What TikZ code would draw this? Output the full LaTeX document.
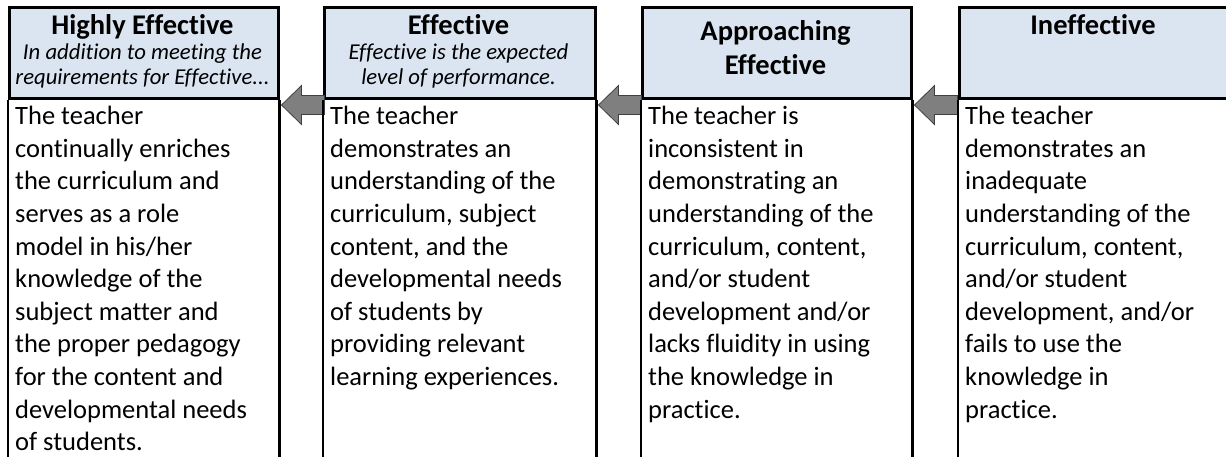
\documentclass[tikz,border=0pt]{standalone}
\usepackage{fontspec}
\setmainfont{Carlito}[Ligatures=NoCommon]
\usetikzlibrary{calc}
\definecolor{hdrblue}{HTML}{DBE5F1}
\definecolor{arrgray}{HTML}{7F7F7F}
\definecolor{arredge}{HTML}{404040}
\newcommand\titlefont{\fontsize{28.5}{35}\selectfont\bfseries}
\newcommand\subfont{\fontsize{22.7}{27}\selectfont\itshape}
\newcommand\bodyfont{\fontsize{26.5}{32.6}\selectfont}
\begin{document}
\begin{tikzpicture}[x=1pt,y=-1pt,
  hdrbox/.style={draw, line width=2.5pt, fill=hdrblue, inner sep=0pt, anchor=north west, minimum height=91pt},
  sideline/.style={line width=2.5pt},
  ttl/.style={font=\titlefont, anchor=base, inner sep=0pt},
  sub/.style={font=\subfont, anchor=base, inner sep=0pt},
  bodytext/.style={font=\bodyfont, align=left, anchor=north west, inner sep=0pt},
  blockarrow/.style={fill=arrgray, draw=arredge, line width=0.8pt, line join=miter}]
\useasboundingbox (0,0) rectangle (1226,456);
% headers
\node[hdrbox, minimum width=269pt] (h1) at (8,6) {};
\node[hdrbox, minimum width=271pt] (h2) at (323,6) {};
\node[hdrbox, minimum width=269pt] (h3) at (641,6) {};
\node[hdrbox, minimum width=271pt] (h4) at (958,6) {};
% arrows
\foreach \a in {h1,h2,h3}{
  \draw[blockarrow] ($(\a.south east)+(2,5.5)$) -- ++(20,-19.5) -- ++(0,10) -- ++(23,0) -- ++(0,19) -- ++(-23,0) -- ++(0,10) -- cycle;
}
% side lines
\foreach \a in {h1,h2,h3,h4}{
  \draw[sideline] (\a.south west) -- ++(0,370);
  \draw[sideline] (\a.south east) -- ++(0,370);
}
% titles
\node[ttl] (t1) at (142.5,34.5) {Highly Effective};
\node[sub] (s1a) at (142.5,59) {In addition to meeting the};
\node[sub] (s1b) at (142.5,84.5) {requirements for Effective...};
\node[ttl] (t2) at (458.5,34.5) {Effective};
\node[sub] (s2a) at (458.5,59) {Effective is the expected};
\node[sub] (s2b) at (458.5,84.5) {level of performance.};
\node[ttl] (t3a) at (775.5,40.5) {Approaching};
\node[ttl] (t3b) at (775.5,74) {Effective};
\node[ttl] (t4) at (1093,34.5) {Ineffective};
% bodies
\node[bodytext] (b1) at (15,101.7) {\strut The teacher\\continually enriches\\the curriculum and\\serves as a role\\model in his/her\\knowledge of the\\subject matter and\\the proper pedagogy\\for the content and\\developmental needs\\of students.};
\node[bodytext] (b2) at (330,101.7) {\strut The teacher\\demonstrates an\\understanding of the\\curriculum, subject\\content, and the\\developmental needs\\of students by\\providing relevant\\learning experiences.};
\node[bodytext] (b3) at (648,101.7) {\strut The teacher is\\inconsistent in\\demonstrating an\\understanding of the\\curriculum, content,\\and/or student\\development and/or\\lacks fluidity in using\\the knowledge in\\practice.};
\node[bodytext] (b4) at (965,101.7) {\strut The teacher\\demonstrates an\\inadequate\\understanding of the\\curriculum, content,\\and/or student\\development, and/or\\fails to use the\\knowledge in\\practice.};
\end{tikzpicture}
\end{document}
